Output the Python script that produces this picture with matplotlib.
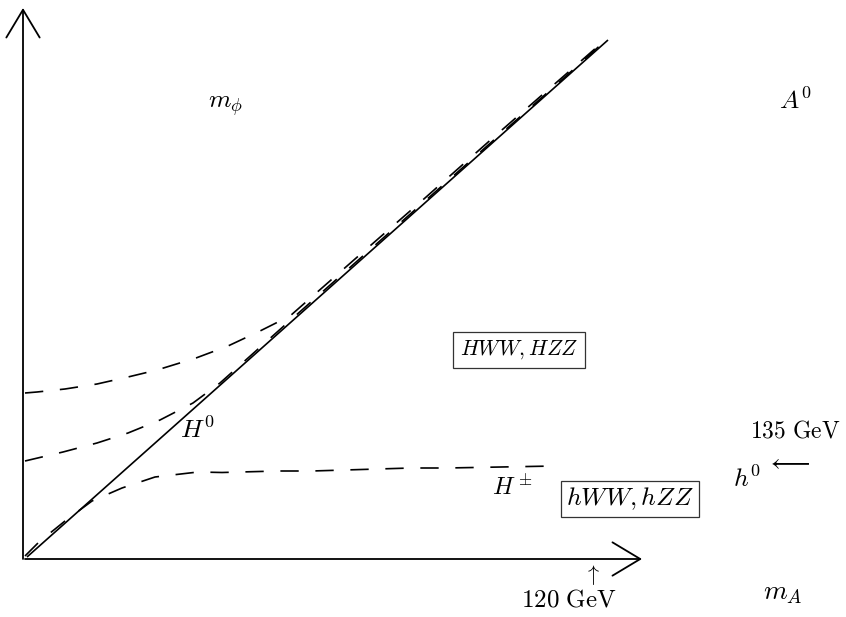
import matplotlib
matplotlib.use("Agg")
import matplotlib.pyplot as plt
from matplotlib.patches import FancyArrowPatch

plt.rcParams['mathtext.fontset'] = 'cm'
plt.rcParams['font.family'] = ['DejaVu Serif']

# ---- data (schematic units, origin at the axes corner) ----
diag_x = [2, 583]
diag_y = [2, 519]

upper_x = [0, 12, 40, 72, 103, 132, 171, 203, 235, 265, 330, 400, 470, 540, 580]
upper_y = [166, 167, 170, 175, 182, 189, 201, 213, 228, 243, 300, 361, 423, 484, 519]

middle_x = [0, 38, 72, 103, 135, 168, 195, 260, 330, 400, 470, 540, 580]
middle_y = [98, 107, 116, 126, 139, 156, 176, 234, 296, 358, 420, 482, 518]

lower_x = [0, 14, 40, 67, 97, 130, 173, 197, 253, 287, 320, 353, 386, 422, 530]
lower_y = [3, 17, 38, 58, 71, 82, 87, 86.5, 88, 88, 89, 90, 91, 91, 93]

x_axis_end = 617
y_axis_end = 551

fig = plt.figure(figsize=(8.46, 6.17), dpi=100)
ax = fig.add_axes([0, 0, 1, 1])
ax.set_xlim(-25, 821)
ax.set_ylim(-58, 559)
ax.axis('off')

# axes with open arrowheads
for start, end in [((0, 0), (x_axis_end, 0)), ((-2, 0), (-2, y_axis_end))]:
    ax.add_patch(FancyArrowPatch(start, end, arrowstyle='->,head_length=1.0,head_width=0.6',
                                 mutation_scale=20, lw=1.3, color='black',
                                 shrinkA=0, shrinkB=0))

ax.plot(diag_x, diag_y, color='black', lw=1.2, solid_capstyle='butt')
dash = (11.0, 10.0)
for xs, ys in [(upper_x, upper_y), (middle_x, middle_y), (lower_x, lower_y)]:
    ax.plot(xs, ys, color='black', lw=1.2, dashes=dash)

fs = 18.5
txt = dict(ha='center', va='center', color='black')
ax.text(200, 454, r'$m_\phi$', fontsize=fs, **txt)
ax.text(770, 458, r'$A^0$', fontsize=fs, **txt)
ax.text(172, 129, r'$H^0$', fontsize=fs, **txt)
ax.text(487, 72, r'$H^\pm$', fontsize=17.5, **txt)
ax.text(722, 80, r'$h^0$', fontsize=fs, **txt)
ax.text(770, 128, r'$\mathrm{135\ GeV}$', fontsize=17, **txt)
ax.text(763, 96, r'$\longleftarrow$', fontsize=18, **txt)
ax.text(567, -16, r'$\uparrow$', fontsize=16, **txt)
ax.text(544, -41, r'$\mathrm{120\ GeV}$', fontsize=18, **txt)
ax.text(758, -34, r'$m_A$', fontsize=19.5, **txt)

ax.text(494, 209, r'$HWW, HZZ$', fontsize=15.5,
        bbox=dict(boxstyle='square,pad=0.3', fc='white', ec='#333333', lw=0.9), **txt)
ax.text(605, 60, r'$hWW, hZZ$', fontsize=18.5,
        bbox=dict(boxstyle='square,pad=0.2', fc='white', ec='#333333', lw=0.9), **txt)

fig.savefig('out.png', dpi=100)
